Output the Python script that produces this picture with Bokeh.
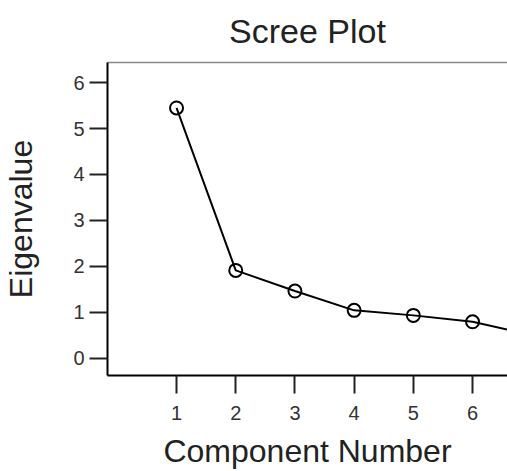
from bokeh.plotting import figure
from bokeh.models import Range1d, LinearAxis, FixedTicker
from bokeh.embed import file_html
from bokeh.resources import INLINE

components = [1, 2, 3, 4, 5, 6, 7]
eigenvalues = [5.45, 1.91, 1.46, 1.04, 0.93, 0.79, 0.50]
x_ticks = [1, 2, 3, 4, 5, 6]
y_ticks = [0, 1, 2, 3, 4, 5, 6]

FONT = "Liberation Sans"

p = figure(width=507, height=471, output_backend="svg", toolbar_location=None,
           x_range=Range1d(-0.166, 6.59), y_range=Range1d(-0.38, 6.44),
           title="Scree Plot", min_border_left=107, min_border_right=0,
           min_border_top=62, min_border_bottom=96)

p.title.align = "center"
p.title.vertical_align = "top"
p.title.text_font = FONT
p.title.text_font_size = "34px"
p.title.text_font_style = "normal"
p.title.text_color = "#222222"
p.title.text_line_height = 1.0
p.title.offset = -5
p.title.standoff = 22

p.xgrid.visible = False
p.ygrid.visible = False
p.outline_line_color = None
p.background_fill_color = "white"
p.border_fill_color = "white"

p.line(components, eigenvalues, line_color="black", line_width=2)
p.scatter(components, eigenvalues, marker="circle", size=13, fill_color=None,
          line_color="black", line_width=2)

# x axis
xa = p.xaxis[0]
xa.ticker = FixedTicker(ticks=x_ticks)
xa.axis_label = "Component Number"
xa.axis_label_text_font = FONT
xa.axis_label_text_font_size = "32px"
xa.axis_label_text_font_style = "normal"
xa.axis_label_text_color = "#222222"
xa.axis_label_standoff = 10
xa.major_label_text_font = FONT
xa.major_label_text_font_size = "20px"
xa.major_label_text_color = "#333333"
xa.major_label_standoff = 12
xa.major_tick_out = 18
xa.major_tick_in = 0
xa.minor_tick_line_color = None
xa.axis_line_color = "black"
xa.axis_line_width = 2
xa.major_tick_line_width = 2
xa.major_tick_line_color = "#222222"

# y axis
ya = p.yaxis[0]
ya.ticker = FixedTicker(ticks=y_ticks)
ya.axis_label = "Eigenvalue"
ya.axis_label_text_font = FONT
ya.axis_label_text_font_size = "32px"
ya.axis_label_text_font_style = "normal"
ya.axis_label_text_color = "#222222"
ya.axis_label_standoff = 31
ya.major_label_text_font = FONT
ya.major_label_text_font_size = "20px"
ya.major_label_text_color = "#333333"
ya.major_label_standoff = 5
ya.major_label_orientation = "horizontal"
ya.major_tick_out = 18
ya.major_tick_in = 0
ya.minor_tick_line_color = None
ya.axis_line_color = "black"
ya.axis_line_width = 2
ya.major_tick_line_width = 2
ya.major_tick_line_color = "#222222"

# thin grey top border
top = LinearAxis(ticker=FixedTicker(ticks=[]), major_tick_out=0, major_tick_in=0,
                 minor_tick_line_color=None, major_label_text_font_size="0px",
                 major_label_standoff=0, axis_label_standoff=0,
                 axis_line_color="#888888", axis_line_width=1.5)
p.add_layout(top, "above")

open("out.html", "w").write(file_html(p, INLINE))
